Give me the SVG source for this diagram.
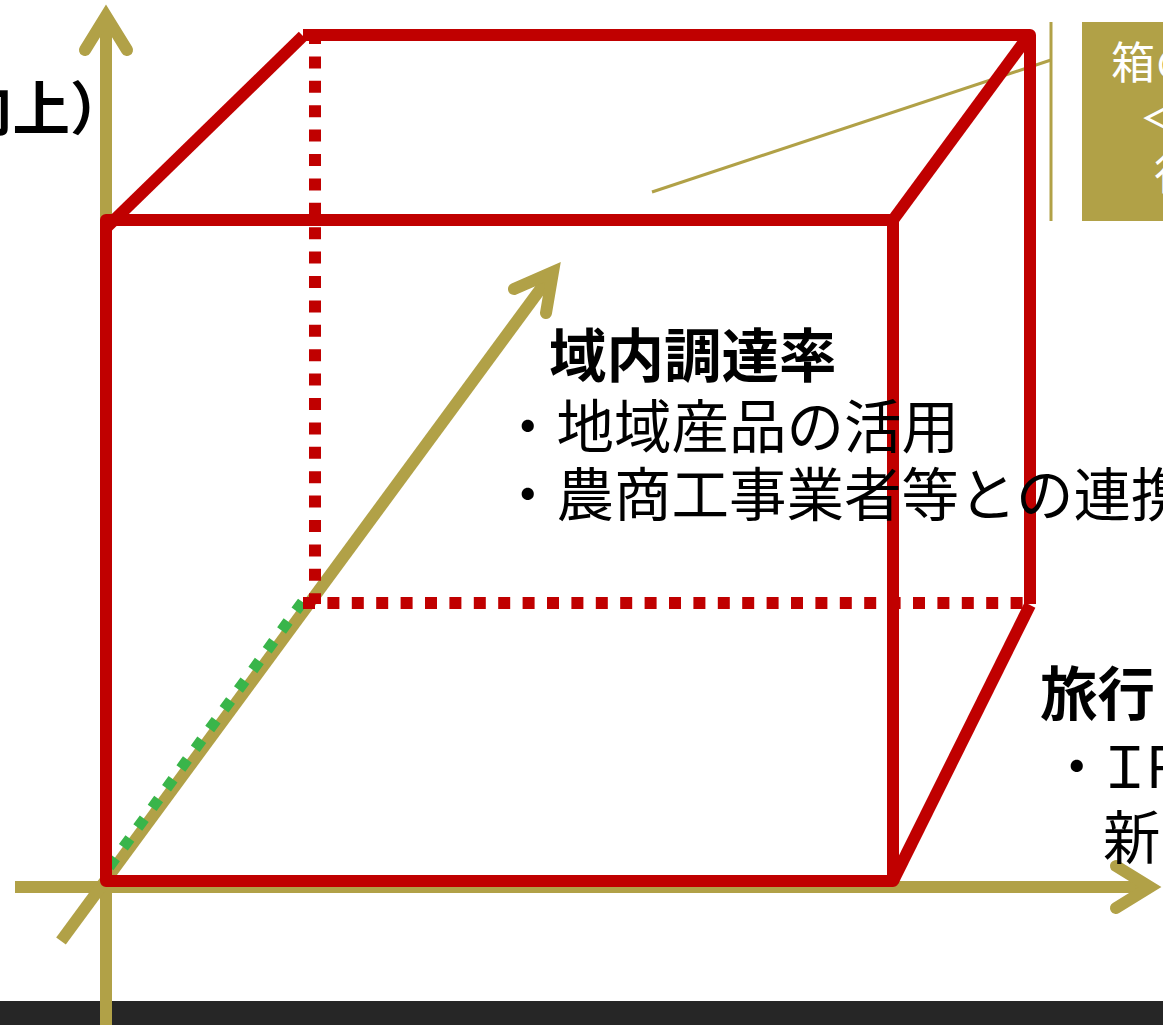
<svg xmlns="http://www.w3.org/2000/svg" width="1163" height="1025" viewBox="0 0 1163 1025">
<style>
.ax{stroke:#B1A147;stroke-width:12;fill:none}
.ah{stroke:#B1A147;stroke-width:12;fill:none;stroke-linecap:round;stroke-linejoin:miter;stroke-miterlimit:10}
.red{stroke:#C00000;stroke-width:12;fill:none;stroke-linejoin:round}
.rdash{stroke:#C00000;stroke-width:12;fill:none;stroke-dasharray:12 12.4}
.gdash{stroke:#39B54A;stroke-width:11;fill:none;stroke-dasharray:11 13.4}
.thin{stroke:#B1A147;stroke-width:3;fill:none}
.t{font-family:"Noto Sans CJK JP","Noto Sans CJK SC",sans-serif;font-size:57.5px;fill:#000}
.b{font-weight:bold}
.w{font-family:"Noto Sans CJK JP","Noto Sans CJK SC",sans-serif;font-size:44px;fill:#fff}
</style>
<rect x="0" y="0" width="1163" height="1025" fill="#fff"/>
<rect x="0" y="1001" width="1163" height="24" fill="#262626"/>
<g id="axes">
<line class="ax" x1="106" y1="1025" x2="106" y2="16"/>
<path class="ah" d="M85,50 L106,16 L127,50"/>
<line class="ax" x1="15" y1="887" x2="1150" y2="887"/>
<path class="ah" d="M1116,866 L1150,887 L1116,908"/>
<line class="ax" x1="61" y1="941" x2="553" y2="272"/>
<path class="ah" d="M514,289 L553,272 L546,313"/>
</g>
<g id="callout">
<line class="thin" x1="652" y1="192" x2="1051" y2="60"/>
<line class="thin" x1="1051" y1="22" x2="1051" y2="221"/>
<rect x="1082" y="22" width="100" height="199" fill="#B1A147"/>
<text class="w" x="1111" y="79">箱の</text>
<text class="w" x="1139" y="135">＜</text>
<text class="w" x="1154" y="190">行</text>
</g>
<g id="connectors">
<line class="gdash" x1="109" y1="867" x2="306" y2="597"/>
<line class="rdash" x1="315" y1="32" x2="315" y2="604"/>
<line class="rdash" x1="303" y1="603" x2="1024" y2="603"/>
<path class="red" d="M106,881 L106,220 L893,220 L893,881 Z"/>
<line class="red" x1="106" y1="228" x2="303" y2="36"/>
<path class="red" d="M303,35 L1030,35 L1030,604"/>
<line class="red" x1="893" y1="220" x2="1027" y2="38"/>
<line class="red" x1="893" y1="881" x2="1030" y2="605"/>
</g>
<g id="label-left"><text class="t b" x="-45" y="130">向上）</text></g>
<g id="label-procurement">
<text class="t b" x="549" y="377">域内調達率</text>
<text class="t" x="499" y="448">・地域産品の活用</text>
<text class="t" x="499" y="516">・農商工事業者等との連携</text>
</g>
<g id="label-travel">
<text class="t b" x="1040" y="715">旅行</text>
<text class="t" x="1048" y="788">・<tspan x="1096">Ｉ</tspan><tspan x="1137">Ｒ</tspan></text>
<text class="t" x="1103" y="859">新</text>
</g>
</svg>
